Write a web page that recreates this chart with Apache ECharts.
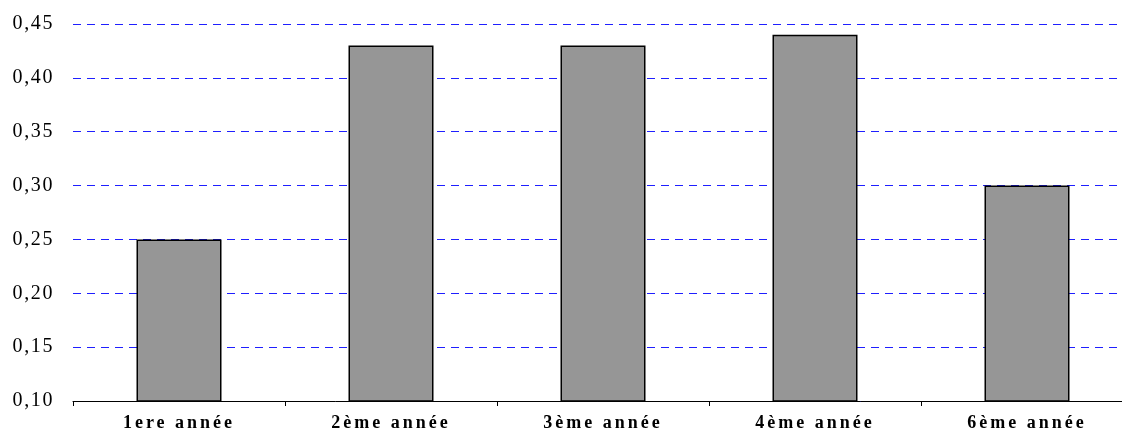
<!DOCTYPE html>
<html>
<head>
<meta charset="utf-8">
<script src="https://cdn.jsdelivr.net/npm/echarts@6/dist/echarts.min.js"></script>
<style>
  html, body { margin: 0; padding: 0; background: #fff; }
  #chart { width: 1122px; height: 434px; overflow: hidden; }
</style>
</head>
<body>
<div id="chart"></div>
<script>
// School years and their rates
const categories = ['1ere année', '2ème année', '3ème année', '4ème année', '6ème année'];
const values = [0.25, 0.43, 0.43, 0.44, 0.30];
const yMin = 0.10;
const yMax = 0.45;
const yStep = 0.05;

// Wide tracking on the axis labels: bold category names get more than the tick values.
const baseFillText = CanvasRenderingContext2D.prototype.fillText;
CanvasRenderingContext2D.prototype.fillText = function (text, x, y, maxWidth) {
  const prev = this.letterSpacing;
  this.letterSpacing = /bold/.test(this.font) ? '3px' : '1.6px';
  const r = maxWidth === undefined ? baseFillText.call(this, text, x, y)
                                   : baseFillText.call(this, text, x, y, maxWidth);
  this.letterSpacing = prev;
  return r;
};

const chart = echarts.init(document.getElementById('chart'), null, { renderer: 'canvas' });

chart.setOption({
  animation: false,
  backgroundColor: '#ffffff',
  grid: {
    left: 73, top: 24, width: 1060, height: 377,
    containLabel: false,
    outerBoundsMode: 'none'
  },
  xAxis: {
    type: 'category',
    data: categories,
    boundaryGap: true,
    axisLine: { show: true, lineStyle: { color: '#000', width: 1 } },
    axisTick: { show: true, alignWithLabel: false, length: 5, lineStyle: { color: '#000' } },
    axisLabel: {
      interval: 0,
      margin: 13,
      color: '#000',
      fontFamily: 'Liberation Serif',
      fontWeight: 'bold',
      fontSize: 18
    },
    splitLine: { show: false }
  },
  yAxis: {
    type: 'value',
    min: yMin,
    max: yMax,
    interval: yStep,
    axisLine: { show: false },
    axisTick: { show: false },
    axisLabel: {
      margin: 19,
      color: '#000',
      fontFamily: 'Liberation Serif',
      fontSize: 20,
      formatter: v => v.toFixed(2).replace('.', ',')
    },
    splitLine: {
      show: true,
      lineStyle: { color: '#1f1fff', width: 1, type: [8, 6] }
    }
  },
  series: [{
    type: 'bar',
    data: values,
    barWidth: 85,
    itemStyle: { color: '#969696', borderColor: '#000', borderWidth: 1.5 },
    silent: true
  }]
});
</script>
</body>
</html>
